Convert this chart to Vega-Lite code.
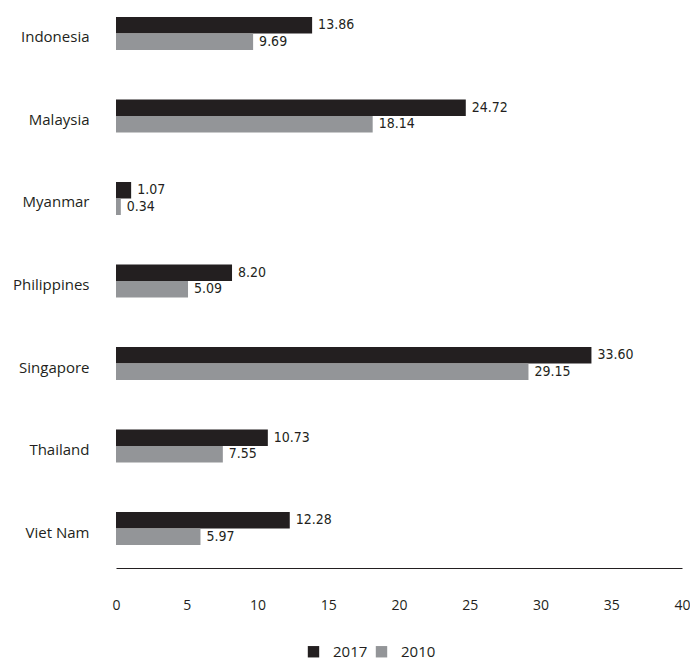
{
  "$schema": "https://vega.github.io/schema/vega-lite/v6.json",
  "autosize": {"type": "none"},
  "width": 566,
  "height": 562,
  "padding": {"left": 116, "top": 0, "right": 8, "bottom": 98},
  "background": "white",
  "config": {
    "view": {"stroke": null},
    "font": "Open Sans"
  },
  "data": {
    "values": [
      {"country": "Indonesia", "year": "2017", "value": 13.86},
      {"country": "Indonesia", "year": "2010", "value": 9.69},
      {"country": "Malaysia", "year": "2017", "value": 24.72},
      {"country": "Malaysia", "year": "2010", "value": 18.14},
      {"country": "Myanmar", "year": "2017", "value": 1.07},
      {"country": "Myanmar", "year": "2010", "value": 0.34},
      {"country": "Philippines", "year": "2017", "value": 8.20},
      {"country": "Philippines", "year": "2010", "value": 5.09},
      {"country": "Singapore", "year": "2017", "value": 33.60},
      {"country": "Singapore", "year": "2010", "value": 29.15},
      {"country": "Thailand", "year": "2017", "value": 10.73},
      {"country": "Thailand", "year": "2010", "value": 7.55},
      {"country": "Viet Nam", "year": "2017", "value": 12.28},
      {"country": "Viet Nam", "year": "2010", "value": 5.97}
    ]
  },
  "encoding": {
    "y": {
      "field": "country",
      "type": "nominal",
      "sort": null,
      "title": null,
      "scale": {"paddingInner": 0.6, "paddingOuter": 0.206},
      "axis": {
        "domain": false,
        "ticks": false,
        "labelPadding": 27,
        "labelFontSize": 15,
        "labelColor": "#231f20",
        "labelOffset": 4,
        "labelFont": "Open Sans"
      }
    },
    "yOffset": {
      "field": "year",
      "type": "nominal",
      "sort": ["2017", "2010"],
      "scale": {"paddingInner": 0, "paddingOuter": 0}
    },
    "x": {
      "field": "value",
      "type": "quantitative",
      "title": null,
      "scale": {"domain": [0, 40], "nice": false},
      "axis": {
        "values": [0, 5, 10, 15, 20, 25, 30, 35, 40],
        "grid": false,
        "ticks": false,
        "tickSize": 0,
        "domainColor": "#231f20",
        "domainWidth": 1.2,
        "offset": 6,
        "labelPadding": 30,
        "labelFontSize": 14,
        "labelColor": "#231f20",
        "labelFont": "Open Sans",
        "labelFlush": false
      }
    }
  },
  "layer": [
    {
      "mark": {"type": "bar", "cornerRadius": 0},
      "encoding": {
        "color": {
          "field": "year",
          "type": "nominal",
          "sort": ["2017", "2010"],
          "scale": {"domain": ["2017", "2010"], "range": ["#231f20", "#939598"]},
          "legend": {
            "title": null,
            "orient": "none",
            "legendX": 190,
            "legendY": 644,
            "direction": "horizontal",
            "symbolType": "square",
            "symbolSize": 130,
            "symbolStrokeWidth": 0,
            "labelFontSize": 15,
            "labelColor": "#231f20",
            "labelFont": "Open Sans",
            "columnPadding": 6,
            "labelOffset": 12
          }
        }
      }
    },
    {
      "mark": {"type": "text", "align": "left", "baseline": "middle", "dx": 6, "fontSize": 14, "color": "#231f20", "font": "'DejaVu Sans Condensed', Roboto, sans-serif"},
      "encoding": {
        "text": {"field": "value", "type": "quantitative", "format": ".2f"}
      }
    }
  ]
}
